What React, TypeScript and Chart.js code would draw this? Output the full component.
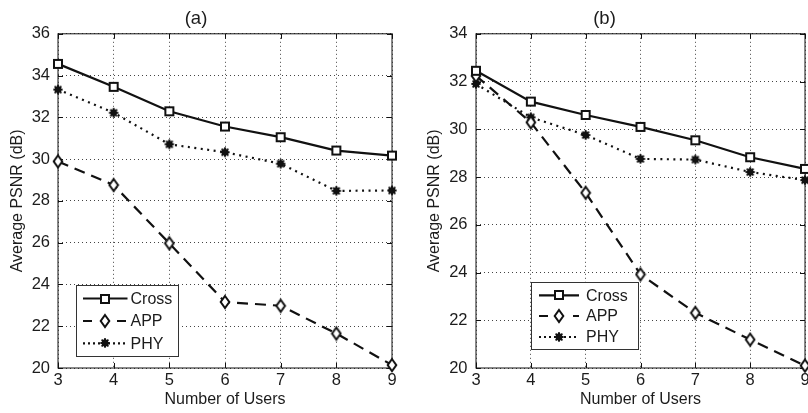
import React, { useEffect, useRef } from "react";
import { Chart, registerables } from "chart.js";

Chart.register(...registerables);

// ---------- data ----------
const users = [3, 4, 5, 6, 7, 8, 9];
const seriesNames = ["Cross", "APP", "PHY"];

const crossA = [34.56, 33.46, 32.29, 31.56, 31.05, 30.41, 30.17];
const appA = [29.89, 28.76, 25.97, 23.16, 22.98, 21.65, 20.14];
const phyA = [33.33, 32.22, 30.71, 30.33, 29.78, 28.48, 28.5];

const crossB = [32.45, 31.16, 30.6, 30.1, 29.54, 28.83, 28.34];
const appB = [32.24, 30.29, 27.34, 23.92, 22.31, 21.19, 20.1];
const phyB = [31.9, 30.5, 29.76, 28.76, 28.73, 28.21, 27.87];

const yRangeA = [20, 36];
const yRangeB = [20, 34];
const xRange = [3, 9];
const titleA = "(a)";
const titleB = "(b)";
const xLabel = "Number of Users";
const yLabel = "Average PSNR (dB)";

const FONT = '"Liberation Sans", Arial, Helvetica, sans-serif';
const INK = "#111";
const TEXT = "#1c1c1c";

type MarkerKind = "square" | "diamond" | "star";

function makeMarker(kind: MarkerKind): HTMLCanvasElement {
  const c = document.createElement("canvas");
  const ctx = c.getContext("2d")!;
  if (kind === "square") {
    c.width = 12;
    c.height = 12;
    ctx.fillStyle = "#fff";
    ctx.fillRect(2, 2, 8, 8);
    ctx.strokeStyle = INK;
    ctx.lineWidth = 2;
    ctx.strokeRect(2, 2, 8, 8);
  } else if (kind === "diamond") {
    c.width = 12;
    c.height = 16;
    ctx.beginPath();
    ctx.moveTo(6, 2);
    ctx.lineTo(10.3, 8);
    ctx.lineTo(6, 14);
    ctx.lineTo(1.7, 8);
    ctx.closePath();
    ctx.fillStyle = "#fff";
    ctx.fill();
    ctx.strokeStyle = INK;
    ctx.lineWidth = 2;
    ctx.stroke();
  } else {
    c.width = 12;
    c.height = 12;
    ctx.strokeStyle = INK;
    ctx.lineWidth = 2.2;
    ctx.lineCap = "round";
    for (let i = 0; i < 4; i++) {
      const a = (i * Math.PI) / 4;
      ctx.beginPath();
      ctx.moveTo(6 - Math.cos(a) * 3.8, 6 - Math.sin(a) * 3.8);
      ctx.lineTo(6 + Math.cos(a) * 3.8, 6 + Math.sin(a) * 3.8);
      ctx.stroke();
    }
    ctx.fillStyle = INK;
    ctx.beginPath();
    ctx.arc(6, 6, 3.3, 0, Math.PI * 2);
    ctx.fill();
  }
  return c;
}

type LegendLayout = {
  x: number;
  y: number;
  w: number;
  h: number;
  rows: number[];
  lineX0: number;
  lineX1: number;
  textX: number;
};

type PanelProps = {
  left: number;
  width: number;
  padRight: number;
  yAxisWidth: number;
  yTitlePad: number;
  yTickPad: number;
  title: string;
  yRange: number[];
  cross: number[];
  app: number[];
  phy: number[];
  legend: LegendLayout;
};

function Panel(p: PanelProps) {
  const ref = useRef<HTMLCanvasElement | null>(null);

  useEffect(() => {
    const canvas = ref.current!;
    const markers = {
      square: makeMarker("square"),
      diamond: makeMarker("diamond"),
      star: makeMarker("star"),
    };
    const dashes = [[], [11, 7], [2, 4.5]];
    const legendDashes = [[], [9, 25], [2, 3]];
    const markerList = [markers.square, markers.diamond, markers.star];
    const values = [p.cross, p.app, p.phy];

    const boxPlugin = {
      id: "box",
      beforeDatasetsDraw(chart: any) {
        const { ctx, chartArea: a, scales } = chart;
        ctx.save();
        ctx.strokeStyle = INK;
        ctx.lineWidth = 1;
        ctx.setLineDash([]);
        ctx.strokeRect(a.left, a.top, a.right - a.left, a.bottom - a.top);
        const tl = 5;
        ctx.beginPath();
        for (const t of scales.x.ticks) {
          const px = Math.round(scales.x.getPixelForValue(t.value)) + 0.5;
          ctx.moveTo(px, a.bottom);
          ctx.lineTo(px, a.bottom - tl);
          ctx.moveTo(px, a.top);
          ctx.lineTo(px, a.top + tl);
        }
        for (const t of scales.y.ticks) {
          const py = Math.round(scales.y.getPixelForValue(t.value)) + 0.5;
          ctx.moveTo(a.left, py);
          ctx.lineTo(a.left + tl, py);
          ctx.moveTo(a.right, py);
          ctx.lineTo(a.right - tl, py);
        }
        ctx.stroke();
        ctx.restore();
      },
    };

    const legendPlugin = {
      id: "customLegend",
      afterDraw(chart: any) {
        const { ctx } = chart;
        const L = p.legend;
        ctx.save();
        ctx.fillStyle = "#fff";
        ctx.fillRect(L.x, L.y, L.w, L.h);
        ctx.strokeStyle = "#333";
        ctx.lineWidth = 1;
        ctx.setLineDash([]);
        ctx.strokeRect(L.x + 0.5, L.y + 0.5, L.w, L.h);
        seriesNames.forEach((name, i) => {
          const y = L.rows[i];
          ctx.save();
          ctx.strokeStyle = INK;
          ctx.lineWidth = 2.2;
          ctx.setLineDash(legendDashes[i]);
          ctx.beginPath();
          ctx.moveTo(L.lineX0, y);
          ctx.lineTo(L.lineX1, y);
          ctx.stroke();
          ctx.restore();
          const m = markerList[i];
          const cx = (L.lineX0 + L.lineX1) / 2;
          ctx.drawImage(m, Math.round(cx - m.width / 2), Math.round(y - m.height / 2));
          ctx.fillStyle = TEXT;
          ctx.font = `16px ${FONT}`;
          ctx.textBaseline = "middle";
          ctx.textAlign = "left";
          ctx.fillText(name, L.textX, y + 1);
        });
        ctx.restore();
      },
    };

    const chart = new Chart(canvas, {
      type: "line",
      data: {
        datasets: seriesNames.map((name, i) => ({
          label: name,
          data: users.map((u, k) => ({ x: u, y: values[i][k] })),
          borderColor: INK,
          backgroundColor: INK,
          borderWidth: 2.2,
          borderDash: dashes[i],
          pointStyle: markerList[i],
          pointRadius: 4,
          pointHoverRadius: 4,
          fill: false,
          tension: 0,
          clip: false,
        })),
      },
      options: {
        animation: false,
        responsive: false,
        devicePixelRatio: 1,
        events: [],
        layout: { padding: { left: 0, right: p.padRight, top: 0, bottom: 0 } },
        plugins: {
          legend: { display: false },
          tooltip: { enabled: false },
          title: {
            display: true,
            text: p.title,
            color: TEXT,
            font: { family: FONT, size: 18.5, weight: "normal" },
            padding: { top: 8, bottom: 3.6 },
          },
        },
        scales: {
          x: {
            type: "linear",
            min: xRange[0],
            max: xRange[1],
            ticks: {
              stepSize: 1,
              color: TEXT,
              padding: 3,
              font: { family: FONT, size: 16.5 },
            },
            grid: { color: "#444", lineWidth: 1, drawTicks: false },
            border: { display: false, dash: [1, 3] },
            title: {
              display: true,
              text: xLabel,
              color: TEXT,
              font: { family: FONT, size: 16 },
              padding: { top: 0, bottom: 3.4 },
            },
            afterFit: (s: any) => {
              s.height = 45;
            },
          },
          y: {
            type: "linear",
            min: p.yRange[0],
            max: p.yRange[1],
            ticks: {
              stepSize: 2,
              color: TEXT,
              padding: p.yTickPad,
              font: { family: FONT, size: 16.5 },
            },
            grid: { color: "#444", lineWidth: 1, drawTicks: false },
            border: { display: false, dash: [1, 3] },
            title: {
              display: true,
              text: yLabel,
              color: TEXT,
              font: { family: FONT, size: 16 },
              padding: { top: p.yTitlePad, bottom: 0 },
            },
            afterFit: (s: any) => {
              s.width = p.yAxisWidth;
            },
          },
        },
      } as any,
      plugins: [boxPlugin, legendPlugin],
    });
    return () => chart.destroy();
  }, []);

  return (
    <canvas
      ref={ref}
      width={p.width}
      height={413}
      style={{ position: "absolute", left: p.left, top: 0, width: p.width, height: 413 }}
    />
  );
}

export default function App() {
  return (
    <div
      style={{
        position: "fixed",
        left: 0,
        top: 0,
        width: 808,
        height: 413,
        overflow: "hidden",
        background: "#fff",
      }}
    >
      <Panel
        left={0}
        width={404}
        padRight={12}
        yAxisWidth={58}
        yTitlePad={7.9}
        yTickPad={8}
        title={titleA}
        yRange={yRangeA}
        cross={crossA}
        app={appA}
        phy={phyA}
        legend={{
          x: 76,
          y: 285,
          w: 102,
          h: 71,
          rows: [298.5, 321, 343.3],
          lineX0: 83,
          lineX1: 127.5,
          textX: 130.5,
        }}
      />
      <Panel
        left={404}
        width={420}
        padRight={19}
        yAxisWidth={72}
        yTitlePad={21.4}
        yTickPad={8.5}
        title={titleB}
        yRange={yRangeB}
        cross={crossB}
        app={appB}
        phy={phyB}
        legend={{
          x: 127,
          y: 282,
          w: 107,
          h: 67,
          rows: [295.3, 316, 337],
          lineX0: 135,
          lineX1: 175,
          textX: 182,
        }}
      />
    </div>
  );
}
